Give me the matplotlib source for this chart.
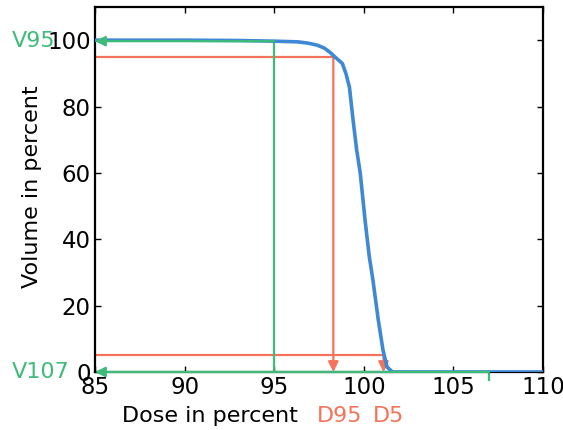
import matplotlib
matplotlib.use('Agg')
import matplotlib.pyplot as plt

# DVH curve (dose in percent, volume in percent)
dose = [85, 90, 93, 95, 96.3, 96.9, 97.4, 97.8, 98.1, 98.4, 98.8, 99.0, 99.2, 99.4,
        99.6, 99.8, 100.07, 100.3, 100.51, 100.8, 101.07, 101.3, 101.6, 102, 105, 110]
volume = [100, 100, 99.9, 99.7, 99.5, 99.1, 98.5, 97.6, 96.4, 94.9, 93.0, 90.0, 85.8,
          76, 67, 60, 45.8, 35, 27.7, 16, 6.6, 1.5, 0, 0, 0, 0]

D95, D5 = 98.3, 101.1
V95, V107 = 99.7, 0.0

BLUE = '#3f88d4'
RED = '#f5735a'
GREEN = '#3dbb78'
FS = 16

plt.rcParams['font.family'] = 'DejaVu Sans'
fig = plt.figure(figsize=(5.63, 4.30), dpi=100)
ax = fig.add_axes([95 / 563, 1 - 372 / 430, 448 / 563, 365 / 430])

ax.plot(dose, volume, color=BLUE, lw=2.6, zorder=3)

arrow_kw = dict(arrowstyle='-|>', mutation_scale=15, shrinkA=0, shrinkB=0)

# D95 / D5 markers
for d, v in [(D95, 95), (D5, 5)]:
    ax.plot([85, d], [v, v], color=RED, lw=1.6, zorder=2)
    ax.annotate('', xy=(d, 0), xytext=(d, v),
                arrowprops=dict(color=RED, lw=1.6, **arrow_kw), zorder=2)

# V95 marker
ax.plot([95, 95], [0, V95], color=GREEN, lw=1.6, zorder=2)
ax.annotate('', xy=(85, V95), xytext=(95, V95),
            arrowprops=dict(color=GREEN, lw=1.6, **arrow_kw), zorder=4)

# V107 marker
ax.plot([107, 107], [-2.5, 0], color=GREEN, lw=1.6, clip_on=False, zorder=2)
ax.annotate('', xy=(85, V107), xytext=(107, V107),
            arrowprops=dict(color=GREEN, lw=1.6, **arrow_kw), zorder=4)

ax.set_xlim(85, 110)
ax.set_ylim(0, 110)
ax.set_xticks([85, 90, 95, 100, 105, 110])
ax.set_yticks([0, 20, 40, 60, 80, 100])
ax.tick_params(direction='in', top=True, right=True, labelsize=FS + 0.5, length=4,
               width=1, pad=3)
for s in ax.spines.values():
    s.set_linewidth(1.6)

ax.set_xlabel('Dose in percent', fontsize=FS)
ax.xaxis.set_label_coords(0.257, -0.094)
ax.set_ylabel('Volume in percent', fontsize=FS)
ax.yaxis.set_label_coords(-0.118, 0.507)

ax.text(80.37, V95, 'V95', color=GREEN, fontsize=FS, ha='left', va='center',
        clip_on=False)
ax.text(80.37, V107, 'V107', color=GREEN, fontsize=FS, ha='left', va='center',
        clip_on=False)
ax.text(97.39, -13.3, 'D95', color=RED, fontsize=FS, ha='left', va='center',
        clip_on=False)
ax.text(100.51, -13.3, 'D5', color=RED, fontsize=FS, ha='left', va='center',
        clip_on=False)

fig.savefig('out.png', dpi=100)
